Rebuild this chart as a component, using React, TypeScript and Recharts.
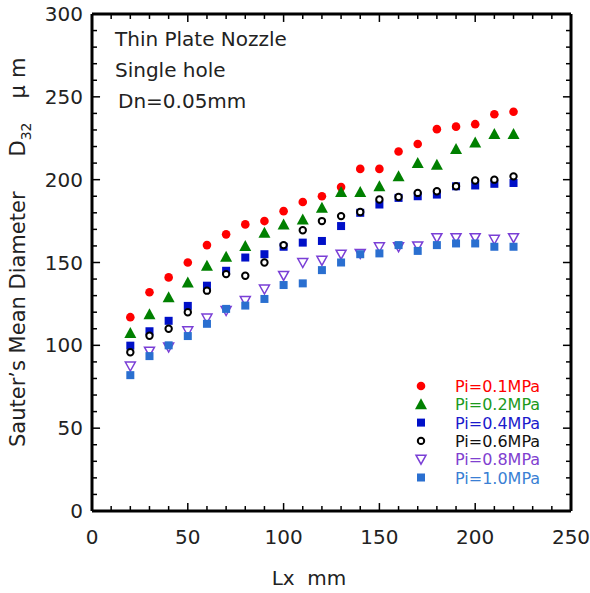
import React from 'react';
import { ScatterChart, Scatter, XAxis, YAxis, ReferenceLine } from 'recharts';

// distance from nozzle Lx (mm)
const lx = [20, 30, 40, 50, 60, 70, 80, 90, 100, 110, 120, 130, 140, 150, 160, 170, 180, 190, 200, 210, 220];

// D32 (um) for each injection pressure
const pi01 = [117, 132, 141, 150, 160.5, 167, 173, 175, 181, 186.5, 190, 195.5, 206.5, 206.5, 217, 221.5, 230.5, 232, 233.5, 239.5, 241];
const pi02 = [107.5, 118.8, 129, 138, 148, 153.5, 160, 168, 173, 176, 183, 192.5, 192.5, 196, 202, 210, 209, 218.5, 222.5, 227.5, 227.5];
const pi04 = [99.8, 108.5, 114.8, 123.8, 136, 145, 153, 155, 159.5, 162, 163, 172, 180, 185, 189, 190, 191, 196, 196.5, 197.5, 198];
const pi06 = [95.8, 105.8, 110, 120, 133, 143, 142, 150, 160.5, 169.5, 175, 178, 180.5, 188, 189.5, 192, 193, 196, 199.5, 200, 202];
const pi08 = [87.5, 96.5, 99, 108.8, 116.5, 121, 127, 134, 142.2, 150, 151.3, 155, 155.5, 159.5, 159.5, 160, 165, 165, 165, 164, 165];
const pi10 = [82, 93.5, 100, 105.6, 113, 122, 124, 128, 136.4, 137.4, 145.4, 150, 155, 155.5, 160.5, 157, 160.5, 161.5, 161.5, 159.5, 159.5];

const xTicks = [0, 10, 20, 30, 40, 50, 60, 70, 80, 90, 100, 110, 120, 130, 140, 150, 160, 170, 180, 190, 200, 210, 220, 230, 240, 250];
const yTicks = [0, 10, 20, 30, 40, 50, 60, 70, 80, 90, 100, 110, 120, 130, 140, 150, 160, 170, 180, 190, 200, 210, 220, 230, 240, 250, 260, 270, 280, 290, 300];

const X_MAX = 250;
const Y_MAX = 300;

const toPoints = (ys: number[]) => lx.map((x, i) => ({ x, y: ys[i] }));

const FONT = '"DejaVu Sans", Verdana, sans-serif';
const INK = '#222';

const series = [
  { name: 'Pi=0.1MPa', data: pi01, color: '#ff0000', text: '#ff0000', kind: 'dot' },
  { name: 'Pi=0.2MPa', data: pi02, color: '#008000', text: '#1c9a1c', kind: 'tri' },
  { name: 'Pi=0.4MPa', data: pi04, color: '#0010c8', text: '#1a1acc', kind: 'sq' },
  { name: 'Pi=0.6MPa', data: pi06, color: '#000000', text: '#111111', kind: 'ring' },
  { name: 'Pi=0.8MPa', data: pi08, color: '#7a3fd6', text: '#8040d0', kind: 'dtri' },
  { name: 'Pi=1.0MPa', data: pi10, color: '#2a6fd0', text: '#3a7fd4', kind: 'sq' },
];

function Marker({ kind, color, cx, cy }: { kind: string; color: string; cx: number; cy: number }) {
  if (kind === 'dot') return <circle cx={cx} cy={cy} r={4.3} fill={color} />;
  if (kind === 'tri')
    return <polygon points={`${cx},${cy - 6} ${cx + 6},${cy + 5} ${cx - 6},${cy + 5}`} fill={color} />;
  if (kind === 'sq') return <rect x={cx - 4} y={cy - 4} width={8} height={8} fill={color} />;
  if (kind === 'ring') return <circle cx={cx} cy={cy} r={3.2} fill="#fff" stroke={color} strokeWidth={2} />;
  return (
    <polygon
      points={`${cx - 5},${cy - 4} ${cx + 5},${cy - 4} ${cx},${cy + 5}`}
      fill="none"
      stroke={color}
      strokeWidth={1.5}
    />
  );
}

const BottomTick = (props: any) => {
  const { x, y, payload } = props;
  if (payload.value % 50 !== 0) return <g />;
  return (
    <text x={x} y={y + 33} textAnchor="middle" fontSize={20} fontFamily={FONT} fill={INK}>
      {payload.value}
    </text>
  );
};

const LeftTick = (props: any) => {
  const { x, y, payload } = props;
  if (payload.value % 50 !== 0) return <g />;
  return (
    <text x={x - 9} y={y + 7} textAnchor="end" fontSize={20} fontFamily={FONT} fill={INK}>
      {payload.value}
    </text>
  );
};

// inward tick marks, lengths in data units (minor / major)
const xLen = (v: number) => (v % 50 === 0 ? 4.2 : 2.6);
const yLen = (v: number) => (v % 50 === 0 ? 4.8 : 3.0);

const frame = { stroke: '#000', strokeWidth: 3 };

export default function App() {
  return (
    <div style={{ position: 'absolute', left: 0, top: 0, width: 590, height: 593, background: '#fff' }}>
      <ScatterChart width={590} height={593} margin={{ top: 13, right: 18, left: 0, bottom: 0 }}>
        <XAxis xAxisId="b" type="number" dataKey="x" domain={[0, X_MAX]} allowDataOverflow ticks={xTicks} interval={0}
          height={82} tickSize={0} tickMargin={0} tickLine={false} tick={<BottomTick />} axisLine={frame} />
        <XAxis xAxisId="t" orientation="top" type="number" domain={[0, X_MAX]} allowDataOverflow ticks={xTicks} interval={0}
          height={1} tick={false} tickLine={false} axisLine={frame} />
        <YAxis yAxisId="l" type="number" dataKey="y" domain={[0, Y_MAX]} allowDataOverflow ticks={yTicks} interval={0}
          width={92} tickSize={0} tickMargin={0} tickLine={false} tick={<LeftTick />} axisLine={frame} />
        <YAxis yAxisId="r" orientation="right" type="number" domain={[0, Y_MAX]} allowDataOverflow ticks={yTicks} interval={0}
          width={1} tick={false} tickLine={false} axisLine={frame} />
        {xTicks.map((v) => (
          <ReferenceLine key={`b${v}`} xAxisId="b" yAxisId="l" ifOverflow="visible" stroke="#000" strokeWidth={1.5}
            segment={[{ x: v, y: 0 }, { x: v, y: yLen(v) }]} />
        ))}
        {xTicks.map((v) => (
          <ReferenceLine key={`t${v}`} xAxisId="b" yAxisId="l" ifOverflow="visible" stroke="#000" strokeWidth={1.5}
            segment={[{ x: v, y: Y_MAX - yLen(v) }, { x: v, y: Y_MAX }]} />
        ))}
        {yTicks.map((v) => (
          <ReferenceLine key={`l${v}`} xAxisId="b" yAxisId="l" ifOverflow="visible" stroke="#000" strokeWidth={1.5}
            segment={[{ x: 0, y: v }, { x: xLen(v), y: v }]} />
        ))}
        {yTicks.map((v) => (
          <ReferenceLine key={`r${v}`} xAxisId="b" yAxisId="l" ifOverflow="visible" stroke="#000" strokeWidth={1.5}
            segment={[{ x: X_MAX - xLen(v), y: v }, { x: X_MAX, y: v }]} />
        ))}
        {series.map((s) => (
          <Scatter
            key={s.name}
            name={s.name}
            xAxisId="b"
            yAxisId="l"
            data={toPoints(s.data)}
            isAnimationActive={false}
            shape={(p: any) => <Marker kind={s.kind} color={s.color} cx={p.cx} cy={p.cy} />}
          />
        ))}
      </ScatterChart>
      <svg style={{ position: 'absolute', left: 0, top: 0 }} width={590} height={593} pointerEvents="none">
        <g fontFamily={FONT} fill={INK} fontSize={20}>
          <text x={115} y={46}>Thin Plate Nozzle</text>
          <text x={115} y={77}>Single hole</text>
          <text x={118} y={108}>Dn=0.05mm</text>
          <text x={309} y={585} textAnchor="middle" xmlSpace="preserve">{'Lx  mm'}</text>
          <text transform="translate(25,447) rotate(-90)" fontSize={21}>
            {'Sauter\u2019s Mean Diameter'}
            <tspan dx={35}>D</tspan>
            <tspan dy={6} fontSize={14}>32</tspan>
            <tspan dy={-6} dx={24}>{'\u03bc'}</tspan>
            <tspan dx={7}>m</tspan>
          </text>
        </g>
        {series.map((s, i) => (
          <g key={s.name}>
            <Marker kind={s.kind} color={s.color} cx={421} cy={386 + i * 18.3} />
            <text x={455} y={392 + i * 18.3} fontSize={16} fontFamily={FONT} fill={s.text}>
              {s.name}
            </text>
          </g>
        ))}
      </svg>
    </div>
  );
}
